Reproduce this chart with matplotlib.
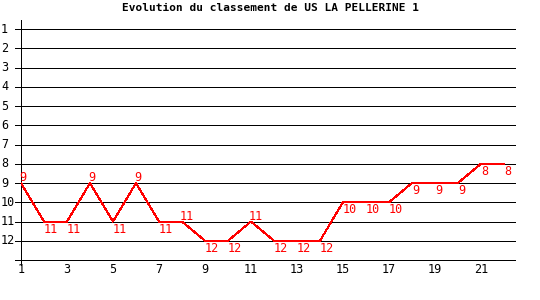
import matplotlib
matplotlib.use("Agg")
import matplotlib.pyplot as plt

# classement par journée
journees = list(range(1, 23))
classement = [9, 11, 11, 9, 11, 9, 11, 11, 12, 12, 11, 12, 12, 12,
              10, 10, 10, 9, 9, 9, 8, 8]
rangs = list(range(1, 13))
ticks_x = list(range(1, 22, 2))
titre = "Evolution du classement de US LA PELLERINE 1"

plt.rcParams['font.family'] = ['DejaVu Sans Mono']

fig = plt.figure(figsize=(5.4, 3.0), dpi=100)
ax = fig.add_axes([21 / 540, 40 / 300, 494 / 540, 240 / 300])
ax.set_xlim(1, 22.48)
ax.set_ylim(13, 0.53)
for s in ax.spines.values():
    s.set_visible(False)
ax.set_xticks([])
ax.set_yticks([])

# lignes horizontales (débordent à gauche de l'axe)
for r in rangs + [13]:
    ax.plot([0.74, 22.48], [r, r], color='black', lw=0.72, clip_on=False,
            antialiased=False, zorder=1)
ax.plot([1, 1], [0.53, 13.25], color='black', lw=0.72, clip_on=False,
        antialiased=False, zorder=1)

# étiquettes des axes
for r in rangs:
    ax.annotate(str(r), xy=(0, r), xycoords=('figure fraction', 'data'),
                xytext=(1, 0), textcoords='offset pixels',
                ha='left', va='center', fontsize=8.5)
for t in ticks_x:
    ax.annotate(str(t), xy=(t, 13), xytext=(0, -3), textcoords='offset pixels',
                ha='center', va='top', fontsize=8.5)

ax.plot(journees, classement, color='red', lw=0.72, zorder=3, antialiased=False)

n = len(journees)
for i, (j, c) in enumerate(zip(journees, classement)):
    dessus = i < n - 1 and classement[i + 1] > c
    if dessus:
        ax.annotate(str(c), xy=(j, c), xytext=(-2, -1), textcoords='offset pixels',
                    ha='left', va='bottom', fontsize=8.5, color='red', zorder=4)
    else:
        ax.annotate(str(c), xy=(j, c), xytext=(0, -1), textcoords='offset pixels',
                    ha='left', va='top', fontsize=8.5, color='red', zorder=4)

fig.text(0.5, 1 - 8 / 300, titre, ha='center', va='center',
         fontsize=8, fontweight='bold')

fig.savefig('out.png', dpi=100)
